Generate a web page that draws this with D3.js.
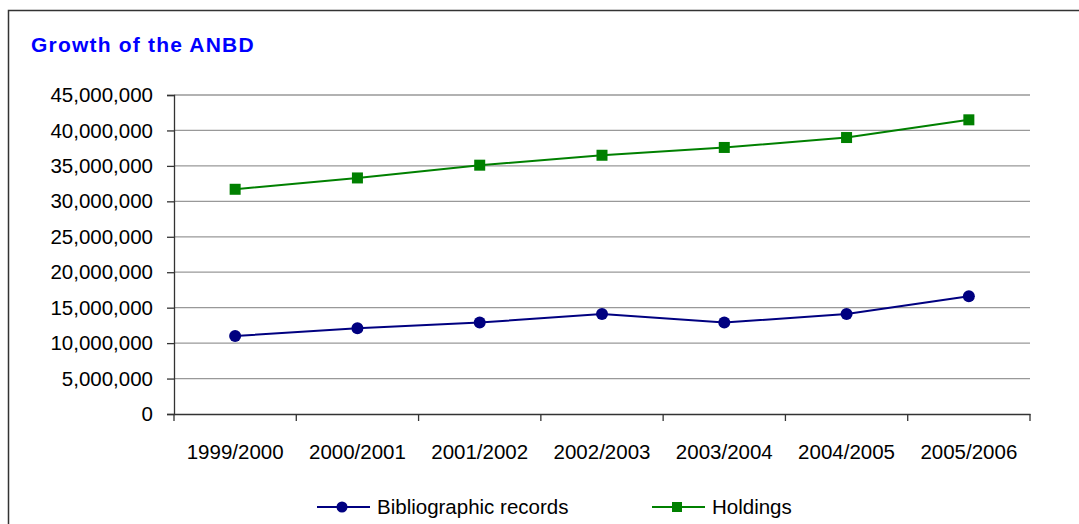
<!DOCTYPE html>
<html>
<head>
<meta charset="utf-8">
<title>Growth of the ANBD</title>
<script src="https://cdn.jsdelivr.net/npm/d3@7"></script>
<style>
  body { margin: 0; background: #fff; }
  svg { display: block; font-family: "Liberation Sans", Arial, sans-serif; }
</style>
</head>
<body>
<div id="chart"></div>
<script>
// chart values
const years = ["1999/2000", "2000/2001", "2001/2002", "2002/2003", "2003/2004", "2004/2005", "2005/2006"];
const biblioRecords = [11000000, 12100000, 12900000, 14100000, 12900000, 14100000, 16600000];
const holdings = [31700000, 33300000, 35100000, 36500000, 37600000, 39000000, 41500000];
const yTicks = [0, 5000000, 10000000, 15000000, 20000000, 25000000, 30000000, 35000000, 40000000, 45000000];

const W = 1079, H = 524;
const margin = {left: 174, right: 49, top: 95, bottom: 110};

const svg = d3.select("#chart").append("svg")
    .attr("width", W)
    .attr("height", H);

// outer frame
svg.append("rect")
    .attr("x", 8.5).attr("y", 10.5)
    .attr("width", 1200).attr("height", 700)
    .attr("fill", "none")
    .attr("stroke", "#333")
    .attr("stroke-width", 1.5);

svg.append("text")
    .attr("x", 31).attr("y", 52)
    .attr("fill", "#0000ff")
    .attr("font-size", 21)
    .attr("font-weight", "bold")
    .attr("letter-spacing", 1.2)
    .text("Growth of the ANBD");

const x = d3.scaleBand()
    .domain(years)
    .range([margin.left, W - margin.right]);

const y = d3.scaleLinear()
    .domain([0, 45000000])
    .range([H - margin.bottom, margin.top]);

// gridlines
svg.append("g")
  .selectAll("line")
  .data(yTicks.filter(d => d > 0))
  .join("line")
    .attr("x1", margin.left).attr("x2", W - margin.right)
    .attr("y1", d => y(d)).attr("y2", d => y(d))
    .attr("stroke", "#999")
    .attr("stroke-width", 1.3);

// y axis
const yAxis = svg.append("g")
    .attr("transform", `translate(${margin.left},0)`)
    .call(d3.axisLeft(y).tickValues(yTicks).tickFormat(d3.format(",")).tickSize(7).tickPadding(14));

// x axis
const xAxis = svg.append("g")
    .attr("transform", `translate(0,${y(0)})`)
    .call(d3.axisBottom(x).tickSize(0).tickPadding(30));

// ticks between categories on x axis
svg.append("g")
  .selectAll("line")
  .data(years.concat(["end"]))
  .join("line")
    .attr("x1", (d, i) => margin.left + i * x.bandwidth())
    .attr("x2", (d, i) => margin.left + i * x.bandwidth())
    .attr("y1", y(0)).attr("y2", y(0) + 7)
    .attr("stroke", "#333")
    .attr("stroke-width", 1.3);

[yAxis, xAxis].forEach(g => {
  g.selectAll(".domain").attr("stroke", "#333").attr("stroke-width", 1.3);
  g.selectAll(".tick line").attr("stroke", "#333").attr("stroke-width", 1.3);
  g.selectAll("text")
    .attr("font-size", 20.5)
    .attr("fill", "#000")
    .attr("font-family", "'Liberation Sans', Arial, sans-serif");
});

const cx = d => x(d) + x.bandwidth() / 2;

function drawSeries(values, color, shape) {
  const pts = years.map((yr, i) => [cx(yr), y(values[i])]);
  svg.append("path")
      .attr("d", d3.line()(pts))
      .attr("fill", "none")
      .attr("stroke", color)
      .attr("stroke-width", 2);
  const g = svg.append("g");
  if (shape === "circle") {
    g.selectAll("circle").data(pts).join("circle")
        .attr("cx", d => d[0]).attr("cy", d => d[1])
        .attr("r", 6).attr("fill", color);
  } else {
    g.selectAll("rect").data(pts).join("rect")
        .attr("x", d => d[0] - 5.5).attr("y", d => d[1] - 5.5)
        .attr("width", 11).attr("height", 11).attr("fill", color);
  }
}

drawSeries(biblioRecords, "#000080", "circle");
drawSeries(holdings, "#008000", "square");

// legend
const legendItems = [
  {label: "Bibliographic records", color: "#000080", shape: "circle", x: 317},
  {label: "Holdings", color: "#008000", shape: "square", x: 652}
];
const ly = 507;
legendItems.forEach(item => {
  const g = svg.append("g");
  g.append("line")
      .attr("x1", item.x).attr("x2", item.x + 53)
      .attr("y1", ly).attr("y2", ly)
      .attr("stroke", item.color).attr("stroke-width", 2);
  if (item.shape === "circle") {
    g.append("circle").attr("cx", item.x + 25).attr("cy", ly).attr("r", 5.5).attr("fill", item.color);
  } else {
    g.append("rect").attr("x", item.x + 20).attr("y", ly - 5).attr("width", 10).attr("height", 10).attr("fill", item.color);
  }
  g.append("text")
      .attr("x", item.x + 60).attr("y", ly)
      .attr("dy", "0.36em")
      .attr("font-size", 20.5)
      .text(item.label);
});
</script>
</body>
</html>
